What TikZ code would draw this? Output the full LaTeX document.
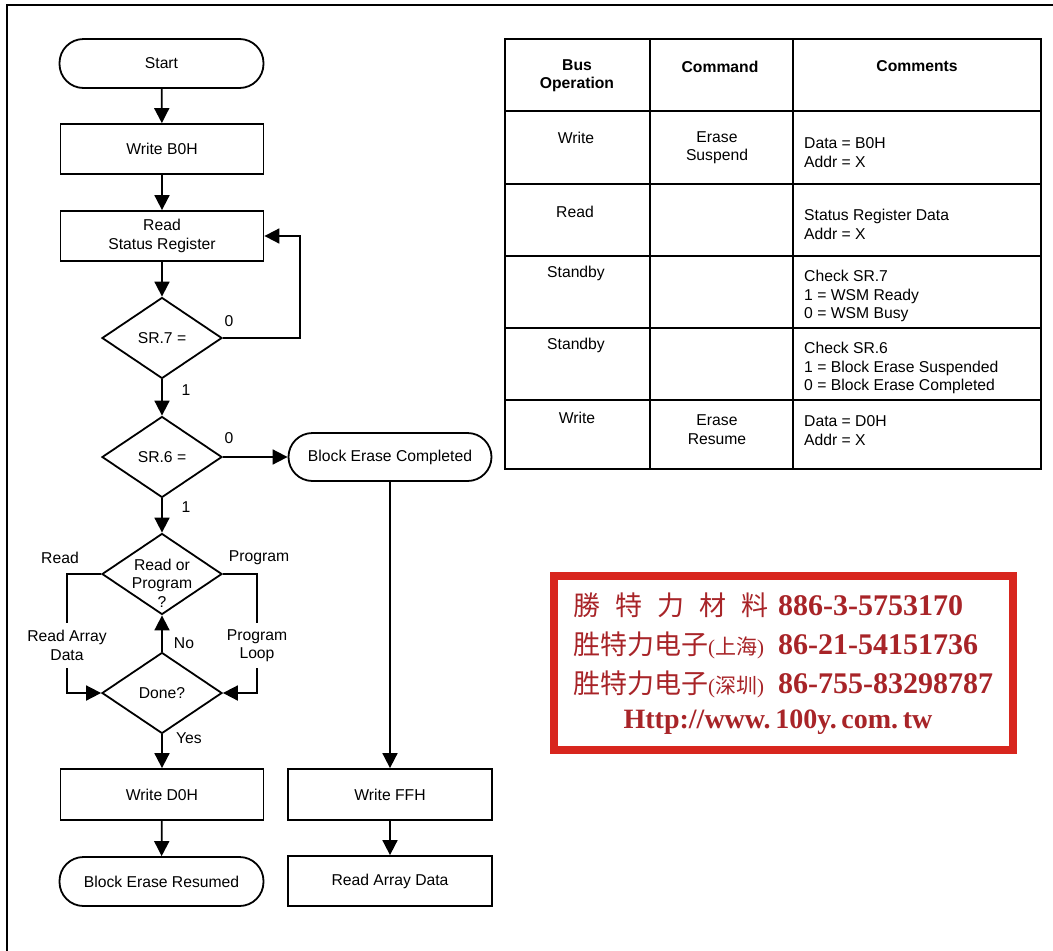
\documentclass[tikz,border=0pt]{standalone}
\usepackage{fontspec}
\setmainfont{Liberation Sans}
\newfontfamily\cjk{Noto Sans CJK SC}
\newfontfamily\stampserif{Liberation Serif}
\usetikzlibrary{arrows.meta,shapes.geometric}
\definecolor{stampred}{HTML}{D8261E}
\definecolor{stamptext}{HTML}{A82428}
\newcommand{\fs}{\fontsize{15.7}{18.5}\selectfont}
\begin{document}
\begin{tikzpicture}[x=1pt,y=-1pt,
  flow/.style={draw, line width=1.8pt, font=\fs, align=center},
  box/.style={flow, rectangle, minimum width=203pt, minimum height=50pt, inner sep=0pt},
  term/.style={flow, rectangle, rounded corners=24pt, minimum width=204pt, minimum height=49pt, inner sep=0pt},
  dia/.style={flow, diamond, minimum width=120pt, minimum height=81pt, inner sep=0pt},
  arr/.style={line width=1.8pt, -{Triangle[length=15pt,width=15pt]}},
  ln/.style={line width=1.8pt},
  lbl/.style={font=\fs, inner sep=0pt, align=center},
  tline/.style={line width=1.8pt},
  ttxt/.style={font=\fs, inner sep=0pt, align=center},
  ctxt/.style={font=\fs, inner sep=0pt, align=left, anchor=west},
  stamp/.style={inner sep=0pt, anchor=west, text=stamptext}
]
\useasboundingbox (0,0) rectangle (1053,951);
% outer frame
\draw[line width=2.5pt] (7,960) -- (7,5) -- (1060,5);

% ---- flowchart ----
\node[term] (start) at (161.5,63.5) {Start};
\node[box] (wb0) at (162,149) {Write B0H};
\node[box] (rsr) at (162,236) {Read\\Status Register};
\node[dia] (sr7) at (162,338) {};
\node[lbl] (sr7t) at (sr7) {SR.7 =};
\node[dia] (sr6) at (162,457) {};
\node[lbl] (sr6t) at (sr6) {SR.6 =};
\node[dia] (rop) at (162,574) {};
\node[lbl] (ropt) at (162,583) {Read or\\Program\\?};
\node[dia] (done) at (162,693) {};
\node[lbl] (donet) at (done) {Done?};
\node[box, minimum height=51pt] (wd0) at (162,794.5) {Write D0H};
\node[term] (ber) at (161.5,881.5) {Block Erase Resumed};
\node[term, minimum width=203pt, minimum height=48pt] (bec) at (390,457) {Block Erase Completed};
\node[box, minimum width=204pt, minimum height=51pt] (wff) at (390,794.5) {Write FFH};
\node[box, minimum width=204pt] (rad) at (390,881) {Read Array Data};

\node[lbl, minimum height=45pt] (rdat) at (67,645.5) {Read Array\\Data};
\node[lbl, minimum height=45pt] (ploop) at (257,645.5) {Program\\Loop};

\draw[arr] (start) -- (wb0);
\draw[arr] (wb0) -- (rsr);
\draw[arr] (rsr) -- (sr7);
\coordinate (loopc) at (300,338);
\draw[arr] (sr7.east) -- (loopc) |- (rsr.east);
\draw[arr] (sr7) -- (sr6);
\draw[arr] (sr6) -- (rop);
\draw[arr] (sr6.east) -- (bec.west);
\draw[ln] (rop.west) -| (rdat.north);
\draw[arr] (rdat.south) |- (done.west);
\draw[ln] (rop.east) -| (ploop.north);
\draw[arr] (ploop.south) |- (done.east);
\draw[arr] (done) -- (rop);
\draw[arr] (done) -- (wd0);
\draw[arr] (wd0) -- (ber);
\draw[arr] (bec) -- (wff);
\draw[arr] (wff) -- (rad);

\node[lbl] (l0a) at (229,321) {0};
\node[lbl] (l1a) at (186,390) {1};
\node[lbl] (l0b) at (229,438) {0};
\node[lbl] (l1b) at (186,507) {1};
\node[lbl] (lread) at (60,558) {Read};
\node[lbl] (lprog) at (259,558) {Program};
\node[lbl] (lno) at (184,643) {No};
\node[lbl] (lyes) at (189,738) {Yes};

% ---- table ----
\draw[tline] (505,39) rectangle (1041,469);
\foreach \yy in {111,184,256,328,400} \draw[tline] (505,\yy) -- (1041,\yy);
\draw[tline] (650,39) -- (650,469);
\draw[tline] (793,39) -- (793,469);

\node[ttxt, font=\fs\bfseries] (h1) at (577,75.5) {Bus\\Operation};
\node[ttxt, font=\fs\bfseries] (h2) at (720,66.5) {Command};
\node[ttxt, font=\fs\bfseries] (h3) at (917,66.5) {Comments};

\node[ttxt] (r1a) at (576,137.5) {Write};
\node[ttxt] (r1b) at (717,147.5) {Erase\\Suspend};
\node[ctxt] (r1c) at (804,152.5) {Data = B0H\\Addr = X};

\node[ttxt] (r2a) at (575,212) {Read};
\node[ctxt] (r2c) at (804,224.5) {Status Register Data\\Addr = X};

\node[ttxt] (r3a) at (576,273) {Standby};
\node[ctxt] (r3c) at (804,296) {Check SR.7\\1 = WSM Ready\\0 = WSM Busy};

\node[ttxt] (r4a) at (576,345) {Standby};
\node[ctxt] (r4c) at (804,368) {Check SR.6\\1 = Block Erase Suspended\\0 = Block Erase Completed};

\node[ttxt] (r5a) at (577,417.5) {Write};
\node[ttxt] (r5b) at (717,429.5) {Erase\\Resume};
\node[ctxt] (r5c) at (804,430.5) {Data = D0H\\Addr = X};

% ---- stamp ----
\draw[stampred, line width=8pt, fill=white] (554,576) rectangle (1013,750);
\node[stamp] (s1) at (573,605) {{\cjk\fontsize{27}{27}\selectfont 勝\hspace{15pt}特\hspace{15pt}力\hspace{15pt}材\hspace{15pt}料}\hspace{10pt}{\stampserif\bfseries\fontsize{30}{30}\selectfont 886-3-5753170}};
\node[stamp] (s2) at (573,645) {{\cjk\fontsize{27}{27}\selectfont 胜特力电子}{\stampserif\fontsize{21}{21}\selectfont(}{\cjk\fontsize{21}{21}\selectfont 上海}{\stampserif\fontsize{21}{21}\selectfont)}\hspace{14pt}{\stampserif\bfseries\fontsize{30}{30}\selectfont 86-21-54151736}};
\node[stamp] (s3) at (573,684) {{\cjk\fontsize{27}{27}\selectfont 胜特力电子}{\stampserif\fontsize{21}{21}\selectfont(}{\cjk\fontsize{21}{21}\selectfont 深圳}{\stampserif\fontsize{21}{21}\selectfont)}\hspace{14pt}{\stampserif\bfseries\fontsize{30}{30}\selectfont 86-755-83298787}};
\node[stamp, anchor=center] (s4) at (778,722) {\stampserif\bfseries\fontsize{28}{28}\selectfont Http://www.\,100y.\,com.\,tw};
\end{tikzpicture}
\end{document}
